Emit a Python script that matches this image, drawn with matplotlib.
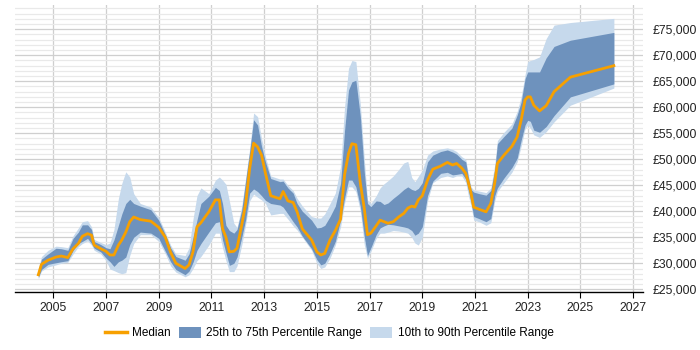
import matplotlib
matplotlib.use("Agg")
import matplotlib.pyplot as plt
from matplotlib.ticker import FuncFormatter, MultipleLocator
from matplotlib.patches import Patch
from matplotlib.lines import Line2D

years = [2004.43, 2004.55, 2004.8, 2005.1, 2005.3, 2005.55, 2005.75, 2005.95, 2006.1, 2006.3,
         2006.45, 2006.55, 2006.8, 2007.0, 2007.15, 2007.3, 2007.47, 2007.6, 2007.75, 2007.9,
         2008.05, 2008.3, 2008.7, 2009.0, 2009.25, 2009.45, 2009.65, 2010.0, 2010.15, 2010.3,
         2010.45, 2010.6, 2010.9, 2011.15, 2011.3, 2011.42, 2011.55, 2011.68, 2011.85, 2011.97,
         2012.15, 2012.3, 2012.45, 2012.6, 2012.75, 2012.9, 2013.05, 2013.25, 2013.6, 2013.72,
         2013.9, 2014.1, 2014.25, 2014.45, 2014.8, 2015.0, 2015.15, 2015.3, 2015.5, 2015.7,
         2015.9, 2016.05, 2016.2, 2016.33, 2016.48, 2016.65, 2016.8, 2016.92, 2017.05, 2017.25,
         2017.4, 2017.55, 2017.7, 2017.9, 2018.1, 2018.3, 2018.45, 2018.6, 2018.72, 2018.85,
         2019.0, 2019.2, 2019.4, 2019.7, 2019.95, 2020.15, 2020.3, 2020.5, 2020.65, 2020.75,
         2020.85, 2020.95, 2021.15, 2021.42, 2021.6, 2021.75, 2021.85, 2022.1, 2022.4, 2022.6,
         2022.75, 2022.9, 2023.0, 2023.1, 2023.23, 2023.45, 2023.7, 2024.0, 2024.62, 2026.27]

p10 = [27.0, 28.5, 29.3, 29.7, 30.0, 30.2, 31.8, 33.2, 33.8, 34.3,
       33.5, 32.5, 31.8, 30.5, 28.9, 28.6, 28.2, 28.0, 28.2, 31.5,
       33.8, 35.5, 35.5, 34.2, 31.8, 29.5, 28.3, 27.4, 27.8, 29.0,
       30.5, 31.3, 33.5, 35.8, 35.8, 33.0, 30.5, 28.4, 28.4, 29.5,
       33.5, 37.5, 42.0, 43.3, 42.7, 42.2, 41.5, 39.3, 39.6, 39.6,
       38.5, 37.2, 36.4, 35.0, 32.5, 30.0, 29.0, 29.3, 31.0, 33.5,
       37.0, 41.5, 44.7, 44.7, 43.8, 40.0, 33.5, 31.0, 32.3, 34.8,
       35.8, 35.8, 36.0, 36.3, 36.2, 36.0, 35.8, 35.0, 33.9, 33.5,
       35.0, 42.0, 45.5, 46.5, 46.8, 46.5, 46.8, 46.8, 45.5, 43.0,
       41.0, 38.3, 38.0, 37.3, 37.8, 42.0, 43.8, 45.5, 47.5, 49.5,
       52.5, 55.8, 56.6, 56.0, 54.7, 54.2, 55.3, 57.2, 60.4, 63.7]

p25 = [27.3, 28.8, 29.8, 30.1, 30.3, 30.5, 32.5, 33.8, 34.2, 34.8,
       33.8, 32.9, 32.2, 31.0, 30.3, 29.4, 30.3, 30.6, 31.2, 33.6,
       35.0, 36.0, 35.8, 34.8, 32.3, 30.3, 28.8, 27.8, 28.5, 30.2,
       32.5, 33.8, 36.0, 37.8, 38.0, 34.5, 32.0, 29.6, 30.0, 31.2,
       35.0, 38.5, 43.5, 44.3, 43.8, 43.0, 42.1, 41.5, 41.2, 40.8,
       39.5, 38.0, 37.0, 35.2, 32.8, 30.7, 29.7, 30.0, 31.9, 34.2,
       38.3, 42.5, 46.0, 46.0, 44.7, 40.9, 35.1, 31.5, 33.0, 35.5,
       36.8, 37.2, 37.5, 37.4, 37.2, 37.0, 36.8, 36.3, 35.4, 35.8,
       37.0, 43.0, 45.8, 47.3, 47.5, 47.0, 47.1, 47.3, 46.2, 44.0,
       41.8, 39.0, 38.6, 38.0, 38.6, 43.0, 44.5, 46.4, 48.4, 50.2,
       53.6, 56.6, 57.5, 57.3, 55.6, 55.2, 56.3, 58.4, 62.0, 64.5]

median = [27.8, 29.8, 30.6, 31.2, 31.4, 31.1, 32.8, 33.8, 35.2, 35.7,
          35.4, 33.5, 32.8, 32.3, 31.6, 31.6, 33.5, 34.5, 36.0, 38.0,
          38.9, 38.4, 38.1, 36.9, 35.0, 32.1, 30.0, 29.0, 29.7, 32.2,
          37.0, 37.8, 39.9, 42.2, 42.2, 36.7, 35.0, 32.2, 32.3, 32.9,
          37.4, 41.5, 48.2, 53.1, 52.4, 50.8, 47.3, 43.0, 42.4, 43.8,
          42.0, 41.7, 39.9, 36.6, 34.5, 32.2, 31.6, 31.9, 34.5, 36.3,
          38.5, 47.0, 51.1, 53.0, 52.8, 45.4, 40.5, 35.5, 35.8, 37.2,
          38.3, 38.0, 37.7, 38.0, 38.9, 39.6, 40.6, 41.0, 40.8, 42.2,
          43.0, 46.0, 48.1, 48.7, 49.4, 48.9, 49.2, 48.3, 47.3, 45.5,
          43.5, 40.8, 40.4, 39.9, 41.5, 45.5, 49.2, 50.8, 52.5, 54.3,
          57.5, 61.4, 62.0, 62.0, 60.4, 59.3, 60.3, 63.0, 65.8, 68.0]

p75 = [28.5, 30.8, 31.8, 32.9, 32.8, 32.5, 34.8, 36.0, 37.4, 37.4,
       36.5, 34.2, 33.6, 33.0, 32.8, 34.5, 37.3, 39.5, 41.5, 42.3,
       41.5, 41.0, 40.3, 38.3, 35.5, 33.0, 31.3, 30.6, 31.8, 35.0,
       38.3, 41.5, 42.9, 44.6, 44.0, 41.5, 37.3, 36.3, 35.8, 36.5,
       40.3, 46.0, 51.5, 57.6, 56.6, 52.5, 49.5, 46.3, 45.7, 45.8,
       44.5, 43.5, 41.5, 40.0, 38.3, 36.8, 36.9, 37.3, 39.0, 41.0,
       45.4, 55.5, 63.3, 64.9, 65.2, 58.2, 47.5, 41.5, 40.9, 42.0,
       41.9, 41.3, 41.6, 42.5, 43.3, 44.2, 44.7, 44.2, 44.0, 44.4,
       45.5, 49.5, 50.8, 51.5, 51.8, 51.4, 51.0, 50.0, 49.5, 46.5,
       44.2, 43.7, 43.4, 43.1, 44.0, 48.0, 53.0, 54.4, 56.0, 58.5,
       61.0, 65.5, 66.8, 66.8, 66.8, 66.8, 69.5, 71.7, 72.9, 74.4]

p90 = [29.0, 31.3, 32.5, 33.3, 33.2, 33.0, 35.3, 36.8, 38.0, 38.2,
       37.0, 34.6, 34.0, 33.6, 33.9, 36.5, 42.5, 45.4, 47.6, 46.6,
       43.4, 41.5, 40.8, 38.8, 36.0, 33.5, 31.8, 31.5, 33.0, 38.5,
       43.0, 44.5, 43.4, 46.0, 46.6, 46.0, 45.2, 42.0, 37.7, 36.9,
       41.0, 46.5, 52.0, 58.9, 58.2, 54.0, 50.5, 46.8, 46.2, 46.2,
       45.0, 44.0, 42.5, 41.0, 39.0, 38.7, 38.7, 39.5, 41.5, 43.5,
       48.6, 60.0, 67.5, 69.0, 68.8, 60.5, 50.0, 42.2, 41.5, 43.0,
       44.5, 45.3, 45.9, 46.8, 48.0, 49.3, 49.6, 46.5, 45.7, 46.7,
       47.9, 50.8, 51.6, 52.0, 52.2, 51.9, 51.5, 50.5, 50.0, 47.0,
       44.7, 44.1, 43.9, 43.6, 44.5, 49.0, 53.6, 55.2, 56.8, 59.2,
       62.0, 66.3, 68.8, 69.0, 69.2, 69.7, 73.2, 75.8, 76.3, 77.1]

tick_years = [2005, 2007, 2009, 2011, 2013, 2015, 2017, 2019, 2021, 2023, 2025, 2027]

def k(v):
    return [x * 1000 for x in v]

plt.rcParams["font.family"] = ["Liberation Sans", "DejaVu Sans"]

fig = plt.figure(figsize=(7, 3.5), dpi=100)
ax = fig.add_axes([0.0214, 0.1657, 0.8966, 0.82])

light = "#c6d9ec"
dark = "#6e92bd"
orange = "#f7a000"

ax.fill_between(years, k(p10), k(p90), color=light, linewidth=0, zorder=2)
ax.fill_between(years, k(p25), k(p75), color=dark, linewidth=0, zorder=3)
ax.plot(years, k(median), color=orange, linewidth=2, zorder=4, solid_joinstyle="round")

ax.set_xlim(2003.545, 2027.36)
ax.set_ylim(24480, 79670)
ax.set_xticks(tick_years)
ax.set_xticklabels([str(y) for y in tick_years])
ax.yaxis.set_major_locator(MultipleLocator(5000))
ax.yaxis.set_minor_locator(MultipleLocator(1000))
ax.yaxis.set_major_formatter(FuncFormatter(lambda v, p: "£{:,.0f}".format(v)))
ax.yaxis.tick_right()
ax.grid(True, which="major", axis="both", color="#cfcfcf", linewidth=0.9, zorder=0)
ax.grid(True, which="minor", axis="y", color="#e9e9e9", linewidth=0.9, zorder=0)
ax.set_axisbelow(True)
for s in ["top", "right", "left"]:
    ax.spines[s].set_visible(False)
ax.spines["bottom"].set_color("#000000")
ax.spines["bottom"].set_linewidth(1.0)
ax.tick_params(axis="y", which="both", length=0, labelsize=8.7, pad=7, colors="#222222")
ax.tick_params(axis="x", which="major", length=4, labelsize=8.7, pad=3, colors="#222222", color="#000000")

handles = [
    Line2D([0], [0], color=orange, linewidth=2.5),
    Patch(facecolor=dark, edgecolor="none"),
    Patch(facecolor=light, edgecolor="none"),
]
labels = ["Median", "25th to 75th Percentile Range", "10th to 90th Percentile Range"]
fig.legend(handles, labels, loc="center", bbox_to_anchor=(0.47, 0.048), ncol=3, frameon=False,
           fontsize=8.5, handlelength=1.9, handleheight=1.0, columnspacing=0.65, handletextpad=0.45)

fig.savefig("out.png", dpi=100)
